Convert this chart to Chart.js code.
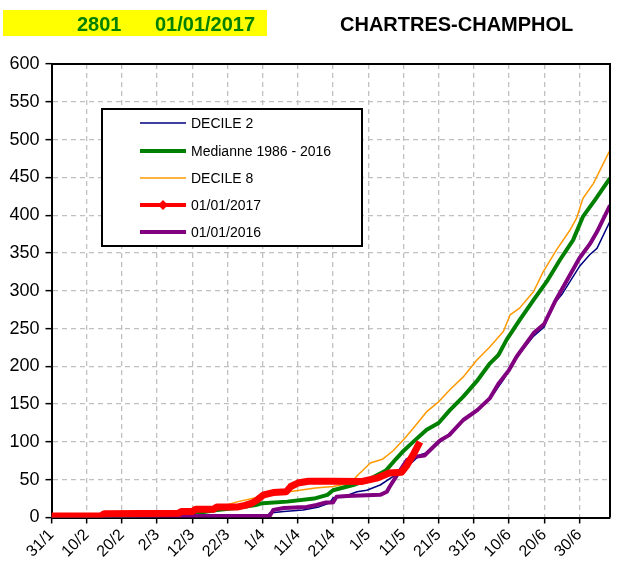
<!DOCTYPE html>
<html>
<head>
<meta charset="utf-8">
<script src="https://cdn.jsdelivr.net/npm/chart.js@4"></script>
<style>
  body { margin: 0; background: #fff; }
  canvas { display: block; }
</style>
</head>
<body>
<canvas id="graf" width="619" height="575"></canvas>
<script>
// Axe X : jours depuis le 31/1, une etiquette tous les 10 jours
const tickLabels = ['31/1', '10/2', '20/2', '2/3', '12/3', '22/3', '1/4', '11/4', '21/4', '1/5', '11/5', '21/5', '31/5', '10/6', '20/6', '30/6'];

// DECILE 2
const decile2Days = [0, 20, 40, 60, 61.5, 62, 66, 71.5, 76, 79, 80, 83, 86.8, 89.6, 93.4, 97, 101, 104.8, 107, 110.4, 113, 117, 121, 124.6, 128.4, 132.2, 137, 140, 142, 145, 150, 153, 155, 158.7];
const decile2Vals = [0, 1, 2, 2, 3, 6, 8, 10, 14, 19, 26, 27.5, 34, 36, 43, 54, 67, 83, 86, 100, 110, 129, 142, 157, 182, 212, 240, 252, 278, 295, 332, 348, 356, 392];

// Medianne 1986 - 2016
const medDays = [0, 10, 20, 30, 40, 47, 53, 58, 60, 67, 74.6, 78.4, 80, 85.7, 90, 95, 98, 100, 103, 106.6, 110, 113.2, 117, 120.8, 124.6, 127, 129.3, 133, 137, 140.7, 144.5, 148.2, 151, 154.4, 158.7];
const medVals = [0, 1, 2, 3, 5, 10, 13, 16.5, 19, 21, 25, 30, 36, 43, 50, 62, 78, 88, 101, 116, 125, 142, 160, 180, 204, 215, 235, 261, 288, 312, 341, 367, 398, 420, 449];

// DECILE 8
const decile8Days = [0, 10, 20, 30, 40, 45, 50, 53, 58, 62, 66, 70.5, 75, 80, 85, 87, 90.6, 94, 97, 100.4, 102.8, 106.6, 110, 113.2, 117, 120.8, 124.6, 128.4, 130.3, 133, 137, 139.7, 143.5, 147.3, 149.2, 151, 154, 158.7];
const decile8Vals = [0, 1, 3, 5, 8, 12, 17, 21, 26, 30, 33, 36, 39, 41, 45.6, 56, 72, 77, 88, 105, 118, 140, 153, 169, 186, 208, 226, 246, 268, 277, 299, 325, 354, 380, 396, 422, 442, 486];

// 01/01/2017
const an2017Days = [0, 14, 15, 36, 37, 40, 41, 46, 47, 53, 55, 57, 58.4, 60.3, 63, 66.7, 68, 70, 73, 80, 88, 92.4, 96, 99.5, 101, 103, 104.7];
const an2017Vals = [2, 2, 5, 5.5, 8, 8, 11, 11, 14, 14, 16, 19, 23, 30, 33, 34, 41, 45.6, 48, 48, 47.5, 52, 59, 60, 69, 85, 100];

// 01/01/2016
const an2016Days = [0, 20, 40, 62, 63, 66, 72.5, 75.3, 78, 80, 81, 84, 93.4, 95.3, 96, 99, 101, 102.8, 106, 110.4, 113, 117, 121, 124.6, 127, 130, 132.2, 137, 140, 143, 146, 150, 153, 155, 158.7];
const an2016Vals = [1, 1, 2, 2, 10, 12.5, 14, 16.5, 20, 20, 27.5, 28.5, 30, 34, 40, 62, 76, 80, 82, 102, 109, 129, 142, 158, 177, 195, 213, 244, 256, 285, 310, 343, 362, 378, 413];

const FONT = "'Liberation Sans', Arial, sans-serif";

function pts(days, vals) {
    return days.map((d, i) => ({ x: d, y: vals[i] }));
}

function initGraphique(ctx) {
    // ordre de la legende (dessin : le plus petit "order" passe au-dessus)
    const series = [
        { label: 'DECILE 2', data: pts(decile2Days, decile2Vals), borderColor: '#000080', borderWidth: 1.5, order: 4 },
        { label: 'Medianne 1986 - 2016', data: pts(medDays, medVals), borderColor: '#008000', borderWidth: 4, order: 3 },
        { label: 'DECILE 8', data: pts(decile8Days, decile8Vals), borderColor: '#FF9900', borderWidth: 1.5, order: 5 },
        { label: '01/01/2017', data: pts(an2017Days, an2017Vals), borderColor: '#FF0000', borderWidth: 7, order: 1, marker: true },
        { label: '01/01/2016', data: pts(an2016Days, an2016Vals), borderColor: '#800080', borderWidth: 4, order: 2 }
    ];
    series.forEach(s => {
        s.pointRadius = 0;
        s.fill = false;
        s.tension = 0;
        s.borderJoinStyle = 'round';
    });

    const grille = {
        color: '#c0c0c0',
        lineWidth: 1.3,
        tickColor: '#000',
        tickLength: 6,
        tickWidth: 1.5
    };
    const bord = { color: '#000', width: 2, dash: [5, 4] };

    new Chart(ctx, {
        type: 'line',
        data: { datasets: series },
        options: {
            responsive: false,
            animation: false,
            layout: { padding: { top: 64, right: 9, left: 0, bottom: 0 } },
            plugins: {
                legend: { display: false },
                tooltip: { enabled: false },
                title: { display: false }
            },
            scales: {
                x: {
                    type: 'linear',
                    min: 0,
                    max: 158.7,
                    grid: grille,
                    border: bord,
                    ticks: {
                        stepSize: 10,
                        includeBounds: false,
                        autoSkip: false,
                        maxRotation: 45,
                        minRotation: 45,
                        padding: 2,
                        color: '#000',
                        font: { family: FONT, size: 16 },
                        callback: v => tickLabels[Math.round(v / 10)]
                    },
                    afterFit: s => { s.height = 57.5; }
                },
                y: {
                    min: 0,
                    max: 600,
                    grid: grille,
                    border: bord,
                    ticks: {
                        stepSize: 50,
                        padding: 6,
                        color: '#000',
                        font: { family: FONT, size: 18 }
                    },
                    afterFit: s => { s.width = 51.5; }
                }
            }
        },
        plugins: [{
            id: 'cadreEtTitre',
            afterDatasetsDraw: function (chart) {
                const c = chart.ctx, a = chart.chartArea;
                c.save();
                // bords haut et droit du cadre
                c.strokeStyle = '#000';
                c.lineWidth = 2;
                c.beginPath();
                c.moveTo(a.left, a.top);
                c.lineTo(a.right, a.top);
                c.lineTo(a.right, a.bottom);
                c.stroke();

                // bandeau jaune + titre
                c.fillStyle = '#FFFF00';
                c.fillRect(3, 10, 264, 26);
                c.font = 'bold 20px ' + FONT;
                c.textBaseline = 'alphabetic';
                c.textAlign = 'left';
                c.fillStyle = '#008000';
                c.fillText('2801', 77, 31);
                c.fillText('01/01/2017', 155, 31);
                c.fillStyle = '#000';
                c.fillText('CHARTRES-CHAMPHOL', 340, 31);
                c.restore();
            },
            afterDraw: function (chart) {
                const c = chart.ctx;
                c.save();
                // cadre de la legende
                c.fillStyle = '#fff';
                c.fillRect(102, 109, 260, 137);
                c.strokeStyle = '#000';
                c.lineWidth = 2;
                c.strokeRect(102, 109, 260, 137);

                const rows = [123, 151, 178, 205, 232];
                c.font = '14px ' + FONT;
                c.textBaseline = 'middle';
                chart.data.datasets.forEach((ds, i) => {
                    const y = rows[i];
                    c.strokeStyle = ds.borderColor;
                    c.lineWidth = Math.min(ds.borderWidth, 4);
                    c.beginPath();
                    c.moveTo(140, y);
                    c.lineTo(186, y);
                    c.stroke();
                    if (ds.marker) {
                        c.fillStyle = ds.borderColor;
                        c.beginPath();
                        c.moveTo(163, y - 5);
                        c.lineTo(168, y);
                        c.lineTo(163, y + 5);
                        c.lineTo(158, y);
                        c.closePath();
                        c.fill();
                    }
                    c.fillStyle = '#000';
                    c.fillText(ds.label, 191, y + 1);
                });
                c.restore();
            }
        }]
    });
}

initGraphique(document.getElementById('graf').getContext('2d'));
</script>
</body>
</html>
